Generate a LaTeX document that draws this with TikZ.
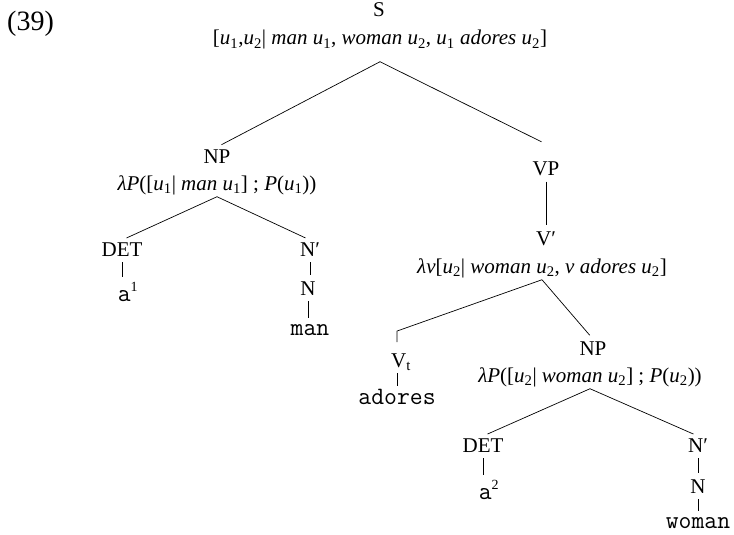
\documentclass[tikz,border=0pt]{standalone}
\usepackage{fontspec}
\setmainfont{Liberation Serif}
\usepackage{tikz}
\usetikzlibrary{positioning}

\newcommand{\uu}[1]{\textit{u}\textsubscript{#1}}
\tikzset{
	cat/.style={anchor=base, inner sep=2pt, font=\fontsize{21}{24}\selectfont},
	word/.style={anchor=base, inner sep=2pt, font=\fontsize{25}{28}\selectfont\ttfamily},
	branch/.style={line width=0.7pt, shorten >=5pt}
}

\begin{document}
\begin{tikzpicture}[x=1pt, y=-1pt]
	\useasboundingbox (0,0) rectangle (734,535);

	\node[anchor=base west, inner sep=0pt, font=\fontsize{28}{32}\selectfont] (num) at (7, 31) {(39)};

	% top
	\node[cat] (s) at (379, 17) {S};
	\node[cat] (ssem) at (380, 45) {[\uu1,\uu2| \textit{man} \uu1, \textit{woman} \uu2, \uu1 \textit{adores} \uu2]};

	% subject
	\node[cat] (np1) at (217, 163) {NP};
	\node[cat] (np1sem) at (217, 190) {\textit{λP}([\uu1| \textit{man} \uu1] ; \textit{P}(\uu1))};
	\node[cat] (det1) at (122, 256) {DET};
	\node[cat] (nbar1) at (310, 256) {N′};
	\node[word] (a1) at (128, 301) {a\textsuperscript{\rmfamily\fontsize{14}{14}\selectfont 1}};
	\node[cat] (n1) at (308, 295) {N};
	\node[word] (man) at (310, 335) {man};

	% predicate
	\node[cat] (vp) at (546, 175) {VP};
	\node[cat] (vbar) at (546, 245) {V′};
	\node[cat] (vbarsem) at (542, 273) {\textit{λv}[\uu2| \textit{woman} \uu2, \textit{v adores} \uu2]};
	\node[cat] (vt) at (401, 367) {V\textsubscript{t}};
	\node[word] (adores) at (397, 404) {adores};
	\node[cat] (np2) at (593, 355) {NP};
	\node[cat] (np2sem) at (590, 382) {\textit{λP}([\uu2| \textit{woman} \uu2] ; \textit{P}(\uu2))};
	\node[cat] (det2) at (483, 452) {DET};
	\node[cat] (nbar2) at (698, 452) {N′};
	\node[word] (a2) at (489, 499) {a\textsuperscript{\rmfamily\fontsize{14}{14}\selectfont 2}};
	\node[cat] (n2) at (698, 493) {N};
	\node[word] (woman) at (698, 528) {woman};

	% branches
	\draw[branch] ([yshift=-10pt]ssem.south) -- (np1.north);
	\draw[branch] ([yshift=-10pt]ssem.south) -- ([yshift=15pt]vp.north);
	\draw[branch] (np1sem.south) -- (det1.north);
	\draw[branch] (np1sem.south) -- (nbar1.north);
	\draw[branch, shorten >=0pt] (vbarsem.south) -- ([xshift=-4pt,yshift=20pt]vt.north) -- ([xshift=-4pt,yshift=9pt]vt.north);
	\draw[branch] (vbarsem.south) -- (np2.north);
	\draw[branch] (np2sem.south) -- (det2.north);
	\draw[branch] (np2sem.south) -- (nbar2.north);
	\foreach \top/\bot in {det1/a1, nbar1/n1, n1/man, vp/vbar, det2/a2, nbar2/n2, n2/woman}
		\draw[branch, shorten <=4pt, shorten >=4pt] (\top.south) -- (\top.south |- \bot.north);
	\draw[branch, shorten <=1pt, shorten >=1pt] ([xshift=-4pt]vt.south) -- ([xshift=-4pt]vt.south |- adores.north);

\end{tikzpicture}
\end{document}
